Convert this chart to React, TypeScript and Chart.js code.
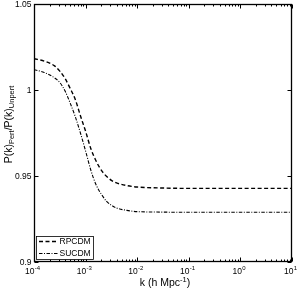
import React, { useEffect, useRef } from "react";
import { Chart, registerables } from "chart.js";

Chart.register(...registerables);

// k in h/Mpc
const kValues = [
  0.0001, 0.000158, 0.000251, 0.000316, 0.000398, 0.000501, 0.000631, 0.000794,
  0.001, 0.00126, 0.00158, 0.002, 0.00251, 0.00316, 0.00398, 0.00631, 0.01,
  0.0316, 0.1, 1, 10,
];
const rpcdm = [
  1.0182, 1.0168, 1.014, 1.011, 1.0068, 1.001, 0.9945, 0.985, 0.976, 0.966,
  0.959, 0.9535, 0.95, 0.9475, 0.946, 0.9444, 0.9436, 0.943, 0.9428, 0.9428,
  0.9428,
];
const sucdm = [
  1.0118, 1.0102, 1.007, 1.0044, 0.9995, 0.9925, 0.9845, 0.975, 0.9645, 0.9535,
  0.9452, 0.9396, 0.9355, 0.933, 0.9314, 0.93, 0.9293, 0.929, 0.9289, 0.9289,
  0.9289,
];
const seriesNames = ["RPCDM", "SUCDM"];
const seriesDashes = [
  [4, 2.5],
  [3.5, 1.5, 1, 1.5],
];
const seriesWidths = [1.4, 1.1];
const yTicks = [0.9, 0.95, 1, 1.05];
const yTickLabels = ["0.9", "0.95", "1", "1.05"];
const xTickValues = [0.0001, 0.001, 0.01, 0.1, 1, 10];
const xTickExponents = ["-4", "-3", "-2", "-1", "0", "1"];
const xMinorMultipliers = [2, 3, 4, 5, 6, 7, 8, 9];

const FONT = '"Liberation Sans", Arial, Helvetica, sans-serif';

const matlabPlugin = {
  id: "matlabAxes",
  afterDatasetsDraw(chart: any) {
    const { ctx, chartArea: a, scales } = chart;
    const xs = scales.x;
    const ys = scales.y;
    const L = Math.round(a.left) + 0.5;
    const R = Math.round(a.right) - 0.5;
    const T = Math.round(a.top) + 0.5;
    const B = Math.round(a.bottom) - 0.5;
    ctx.save();
    ctx.strokeStyle = "#000";
    ctx.fillStyle = "#000";
    ctx.lineWidth = 1.3;
    ctx.setLineDash([]);

    // box
    ctx.strokeRect(L, T, R - L, B - T);

    // y ticks
    ctx.lineWidth = 1;
    ctx.beginPath();
    yTicks.forEach((v) => {
      const y = Math.round(ys.getPixelForValue(v)) + 0.5;
      ctx.moveTo(L, y);
      ctx.lineTo(L + 4, y);
      ctx.moveTo(R, y);
      ctx.lineTo(R - 4, y);
    });
    // x ticks
    xTickValues.forEach((v, i) => {
      const x = Math.round(xs.getPixelForValue(v)) + 0.5;
      ctx.moveTo(x, B);
      ctx.lineTo(x, B - 4);
      ctx.moveTo(x, T);
      ctx.lineTo(x, T + 4);
      if (i < xTickValues.length - 1) {
        xMinorMultipliers.forEach((m) => {
          const xm = Math.round(xs.getPixelForValue(v * m)) + 0.5;
          ctx.moveTo(xm, B);
          ctx.lineTo(xm, B - 2);
          ctx.moveTo(xm, T);
          ctx.lineTo(xm, T + 2);
        });
      }
    });
    ctx.stroke();

    // y tick labels
    ctx.font = `8.5px ${FONT}`;
    ctx.textAlign = "right";
    ctx.textBaseline = "middle";
    yTicks.forEach((v, i) => {
      const y = ys.getPixelForValue(v);
      ctx.fillText(yTickLabels[i], a.left - 2.5, y + 0.5);
    });

    // x tick labels: 10^n
    ctx.textAlign = "left";
    ctx.textBaseline = "alphabetic";
    xTickValues.forEach((v, i) => {
      const x = xs.getPixelForValue(v);
      ctx.font = `8.5px ${FONT}`;
      const w10 = ctx.measureText("10").width;
      ctx.font = `6px ${FONT}`;
      const we = ctx.measureText(xTickExponents[i]).width;
      const start = x - 1.5 - (w10 + we) / 2;
      ctx.font = `8.5px ${FONT}`;
      ctx.fillText("10", start, a.bottom + 12);
      ctx.font = `6px ${FONT}`;
      ctx.fillText(xTickExponents[i], start + w10 + 0.3, a.bottom + 7.5);
    });

    // x axis label: k (h Mpc^-1)
    {
      const mainF = `10.5px ${FONT}`;
      const supF = `7.5px ${FONT}`;
      const p1 = "k (h Mpc";
      const p2 = "-1";
      const p3 = ")";
      ctx.font = mainF;
      const w1 = ctx.measureText(p1).width;
      const w3 = ctx.measureText(p3).width;
      ctx.font = supF;
      const w2 = ctx.measureText(p2).width;
      const total = w1 + w2 + w3;
      const cx = (a.left + a.right) / 2 + 2;
      let x = cx - total / 2;
      const base = 286;
      ctx.font = mainF;
      ctx.fillText(p1, x, base);
      x += w1;
      ctx.font = supF;
      ctx.fillText(p2, x, base - 4.5);
      x += w2;
      ctx.font = mainF;
      ctx.fillText(p3, x, base);
    }

    // y axis label: P(k)_Pert / P(k)_Unpert (rotated)
    {
      const mainF = `10.5px ${FONT}`;
      const subF = `7.5px ${FONT}`;
      const parts: [string, boolean][] = [
        ["P(k)", false],
        ["Pert", true],
        ["/P(k)", false],
        ["Unpert", true],
      ];
      const widths = parts.map(([t, sub]) => {
        ctx.font = sub ? subF : mainF;
        return ctx.measureText(t).width;
      });
      const total = widths.reduce((s, w) => s + w, 0);
      ctx.save();
      ctx.translate(11.5, 124.5);
      ctx.rotate(-Math.PI / 2);
      let x = -total / 2;
      parts.forEach(([t, sub], i) => {
        ctx.font = sub ? subF : mainF;
        ctx.fillText(t, x, sub ? 2.5 : 0);
        x += widths[i];
      });
      ctx.restore();
    }

    // legend
    {
      const bx = 36.5;
      const by = 236.5;
      const bw = 57;
      const bh = 23;
      ctx.fillStyle = "#fff";
      ctx.fillRect(bx, by, bw, bh);
      ctx.strokeStyle = "#000";
      ctx.lineWidth = 0.8;
      ctx.strokeRect(bx, by, bw, bh);
      const rows = [241.5, 253.5];
      ctx.font = `8.5px ${FONT}`;
      ctx.textAlign = "left";
      ctx.textBaseline = "middle";
      seriesNames.forEach((name, i) => {
        ctx.beginPath();
        ctx.lineWidth = seriesWidths[i];
        ctx.setLineDash(seriesDashes[i]);
        ctx.moveTo(39, rows[i]);
        ctx.lineTo(58, rows[i]);
        ctx.stroke();
        ctx.setLineDash([]);
        ctx.fillStyle = "#000";
        ctx.fillText(name, 59.5, rows[i] + 0.5);
      });
    }

    ctx.restore();
  },
};

export default function App() {
  const ref = useRef<HTMLCanvasElement | null>(null);

  useEffect(() => {
    if (!ref.current) return;
    const chart = new Chart(ref.current, {
      type: "line",
      data: {
        datasets: [
          {
            label: seriesNames[0],
            data: kValues.map((k, i) => ({ x: k, y: rpcdm[i] })),
            borderColor: "#000",
            borderWidth: seriesWidths[0],
            borderDash: seriesDashes[0],
            pointRadius: 0,
            cubicInterpolationMode: "monotone",
            fill: false,
          },
          {
            label: seriesNames[1],
            data: kValues.map((k, i) => ({ x: k, y: sucdm[i] })),
            borderColor: "#000",
            borderWidth: seriesWidths[1],
            borderDash: seriesDashes[1],
            pointRadius: 0,
            cubicInterpolationMode: "monotone",
            fill: false,
          },
        ],
      },
      options: {
        animation: false,
        responsive: false,
        maintainAspectRatio: false,
        devicePixelRatio: 1,
        layout: { padding: { left: 34, right: 7, top: 4, bottom: 27 } },
        plugins: {
          legend: { display: false },
          tooltip: { enabled: false },
        },
        scales: {
          x: { type: "logarithmic", min: 0.0001, max: 10, display: false },
          y: { type: "linear", min: 0.9, max: 1.05, display: false },
        },
      },
      plugins: [matlabPlugin],
    } as any);
    return () => chart.destroy();
  }, []);

  return (
    <div style={{ position: "absolute", left: 0, top: 0, width: 299, height: 289, background: "#fff" }}>
      <canvas ref={ref} width={299} height={289} style={{ width: 299, height: 289, display: "block" }} />
    </div>
  );
}
